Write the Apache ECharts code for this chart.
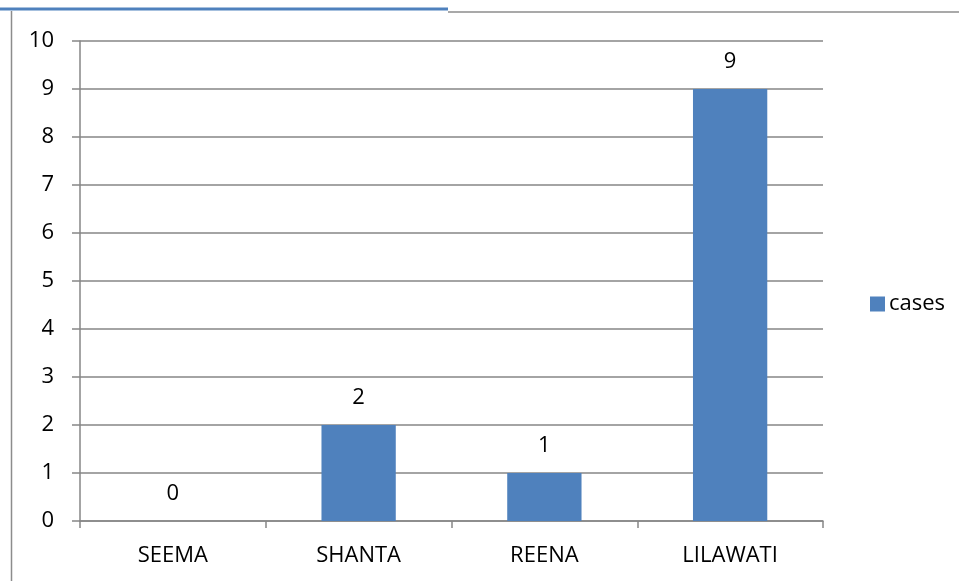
<!DOCTYPE html>
<html><head><meta charset="utf-8">
<script src="https://cdn.jsdelivr.net/npm/echarts@6/dist/echarts.min.js"></script>
<style>html,body{margin:0;padding:0;background:#fff}#c{width:959px;height:581px}</style>
</head><body><div id="c"></div>
<script>
const categories = ["SEEMA", "SHANTA", "REENA", "LILAWATI"];
const cases = [0, 2, 1, 9];
const seriesName = "cases";
const yTicks = [0,1,2,3,4,5,6,7,8,9,10];

const chart = echarts.init(document.getElementById('c'), null, {renderer:'canvas'});
const font = '"Open Sans", sans-serif';
chart.setOption({
  animation:false,
  graphic:[
    {type:'line', shape:{x1:0,y1:9,x2:448,y2:9}, style:{stroke:'#4F81BD', lineWidth:3}},
    {type:'line', shape:{x1:448,y1:12,x2:959,y2:12}, style:{stroke:'#8c8c8c', lineWidth:1.5}},
    {type:'line', shape:{x1:11.5,y1:11,x2:11.5,y2:581}, style:{stroke:'#8c8c8c', lineWidth:1.5}}
  ],
  grid:{left:80, top:41, width:743, height:480, containLabel:false},
  legend:{
    data:[seriesName], left:865, top:288, itemWidth:15, itemHeight:15, itemGap:5,
    icon:'rect', textStyle:{fontFamily:font, fontSize:22, color:'#000', padding:[0,0,0,-1]}
  },
  xAxis:{
    type:'category', data:categories,
    axisLine:{lineStyle:{color:'#868686', width:1.5}},
    axisTick:{show:true, alignWithLabel:false, length:7, lineStyle:{color:'#868686', width:1.5}},
    axisLabel:{fontFamily:font, fontSize:22, color:'#000', margin:24}
  },
  yAxis:{
    type:'value', min:0, max:10, interval:1,
    axisLine:{show:true, lineStyle:{color:'#868686', width:1.5}},
    axisTick:{show:true, length:8, lineStyle:{color:'#868686', width:1.5}},
    axisLabel:{fontFamily:font, fontSize:22, color:'#000', margin:26},
    splitLine:{lineStyle:{color:'#868686', width:1.5}}
  },
  series:[{
    name:seriesName, type:'bar', data:cases, barWidth:'40%',
    itemStyle:{color:'#4F81BD'},
    label:{show:true, position:'top', distance:16, fontFamily:font, fontSize:22, color:'#000'}
  }]
});
</script></body></html>
